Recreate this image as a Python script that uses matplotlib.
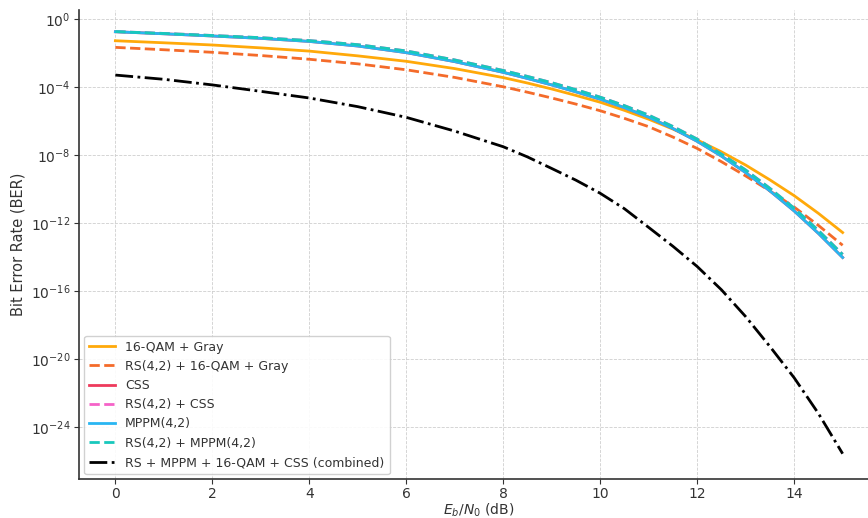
import numpy as np
import matplotlib
matplotlib.use("Agg")
import matplotlib.pyplot as plt
from matplotlib.ticker import FixedLocator, NullLocator, LogFormatterSciNotation

ebn0_db = [0, 1, 2, 3, 4, 5, 6, 7, 8, 8.5, 9, 9.5, 10, 10.5, 11, 11.5,
           12, 12.5, 13, 13.5, 14, 14.5, 15]

# log10(BER)
log_qam = [-1.26, -1.38, -1.51, -1.68, -1.87, -2.15, -2.47, -2.90, -3.43, -3.75, -4.10, -4.48,
           -4.88, -5.36, -5.88, -6.46, -7.10, -7.80, -8.58, -9.45, -10.38, -11.42, -12.55]
log_rs_qam = [-1.65, -1.79, -1.94, -2.13, -2.35, -2.62, -2.97, -3.42, -3.97, -4.29, -4.63, -4.99,
              -5.38, -5.83, -6.32, -6.93, -7.60, -8.38, -9.22, -10.10, -11.05, -12.13, -13.30]
log_css = [-0.73, -0.85, -0.98, -1.12, -1.30, -1.57, -1.96, -2.49, -3.12, -3.48, -3.86, -4.27,
           -4.70, -5.20, -5.76, -6.43, -7.18, -8.05, -9.02, -10.10, -11.28, -12.60, -14.02]
log_rs_css = [-0.72, -0.83, -0.95, -1.08, -1.25, -1.49, -1.86, -2.39, -3.01, -3.36, -3.73, -4.14,
              -4.58, -5.08, -5.64, -6.31, -7.05, -7.93, -8.87, -9.95, -11.12, -12.43, -13.84]
log_mppm = [-0.73, -0.85, -0.98, -1.12, -1.30, -1.57, -1.96, -2.49, -3.12, -3.48, -3.86, -4.27,
            -4.70, -5.20, -5.76, -6.43, -7.18, -8.05, -9.02, -10.10, -11.28, -12.60, -14.02]
log_rs_mppm = [-0.72, -0.83, -0.95, -1.08, -1.25, -1.49, -1.86, -2.39, -3.01, -3.36, -3.73, -4.14,
               -4.58, -5.08, -5.64, -6.31, -7.05, -7.93, -8.87, -9.95, -11.12, -12.43, -13.84]
log_combined = [-3.28, -3.53, -3.86, -4.24, -4.63, -5.14, -5.77, -6.58, -7.50, -8.10, -8.78, -9.47,
                -10.24, -11.15, -12.25, -13.36, -14.55, -15.92, -17.50, -19.26, -21.10, -23.20, -25.57]

labels = ["16-QAM + Gray", "RS(4,2) + 16-QAM + Gray", "CSS", "RS(4,2) + CSS",
          "MPPM(4,2)", "RS(4,2) + MPPM(4,2)", "RS + MPPM + 16-QAM + CSS (combined)"]
colors = ["#ffa90a", "#f46b2a", "#ee3a5c", "#f562c8", "#29b6f2", "#18c8bc", "#000000"]
styles = ["-", "--", "-", "--", "-", "--", "-."]
series = [log_qam, log_rs_qam, log_css, log_rs_css, log_mppm, log_rs_mppm, log_combined]

plt.rcParams["font.family"] = ["DejaVu Sans"]
fig = plt.figure(figsize=(8.68, 5.18), dpi=100)
ax = fig.add_axes([79 / 868, 39 / 518, 800 / 868, 469 / 518])

x = np.array(ebn0_db, dtype=float)
for vals, lab, c, ls in zip(series, labels, colors, styles):
    ax.semilogy(x, 10.0 ** np.array(vals), ls, color=c, lw=2.0, label=lab)

ax.set_xlim(-0.75, 15.75)
ax.set_ylim(10 ** -27.06, 10 ** 0.55)
ax.xaxis.set_major_locator(FixedLocator([0, 2, 4, 6, 8, 10, 12, 14]))
ax.yaxis.set_major_locator(FixedLocator([10.0 ** k for k in range(-24, 1, 4)]))
ax.yaxis.set_major_formatter(LogFormatterSciNotation())
ax.yaxis.set_minor_locator(NullLocator())

ax.grid(True, which="major", linestyle="--", linewidth=0.6, color="#cfcfcf")
for s in ["top", "right"]:
    ax.spines[s].set_visible(False)
for s in ["left", "bottom"]:
    ax.spines[s].set_color("#333333")
    ax.spines[s].set_linewidth(1.2)
ax.tick_params(colors="#333333", labelsize=10, length=3.5, pad=2.5)

ax.set_xlabel("$E_b/N_0$ (dB)", fontsize=10, color="#333333", labelpad=0)
ax.set_ylabel("Bit Error Rate (BER)", fontsize=10.5, color="#333333", labelpad=4)

leg = ax.legend(loc="lower left", fontsize=9, frameon=True, framealpha=0.9,
                edgecolor="#cccccc", borderaxespad=0.4, handlelength=2.1,
                bbox_to_anchor=(0.0, 0.0))
for t in leg.get_texts():
    t.set_color("#333333")

fig.savefig("out.png", dpi=100)
